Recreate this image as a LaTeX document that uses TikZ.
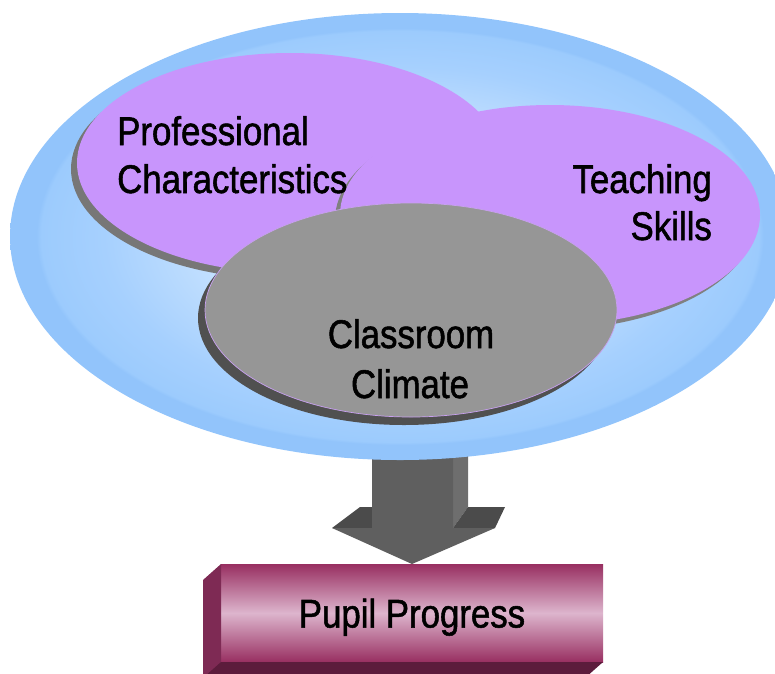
\documentclass[tikz,border=0pt]{standalone}
\usepackage{fontspec}
\setmainfont[FakeStretch=0.87,FakeBold=1.3]{Liberation Sans}
\usetikzlibrary{shapes.geometric}
\definecolor{purp}{HTML}{C895FC}
\definecolor{climgray}{HTML}{969696}
\definecolor{climedge}{HTML}{C8A0F0}
\definecolor{shadowA}{HTML}{777777}
\definecolor{shadowB}{HTML}{808080}
\definecolor{shadowC}{HTML}{505050}
\definecolor{bluein}{HTML}{D2E8FF}
\definecolor{bluemid}{HTML}{A6D0FE}
\definecolor{bluering}{HTML}{9CCBFD}
\definecolor{blueout}{HTML}{92C4FB}
\definecolor{boxdark}{HTML}{982F61}
\definecolor{boxlight}{HTML}{DDB5CD}
\definecolor{boxside}{HTML}{7E2A54}
\definecolor{boxbottom}{HTML}{5C1C3C}
\definecolor{arrfront}{HTML}{5F5F5F}
\definecolor{arrflap}{HTML}{4B4B4B}
\definecolor{arrside}{HTML}{6E6E6E}
\pgfdeclareradialshading{blueglow}{\pgfpoint{0bp}{0bp}}{color(0bp)=(bluein); color(9bp)=(bluein); color(19bp)=(bluemid); color(23bp)=(bluering); color(23.3bp)=(blueout); color(50bp)=(blueout)}
\tikzset{
  blob/.style={ellipse, inner sep=0pt, outer sep=0pt},
  lbl/.style={inner sep=0pt, font=\fontsize{40}{48}\selectfont, text=black},
}
\begin{document}
\begin{tikzpicture}[x=1pt, y=-1pt]
\useasboundingbox (0,0) rectangle (775,673);
\clip (0,0) rectangle (775,673);

% Pupil Progress box
\node[rectangle, minimum width=382pt, minimum height=98pt, inner sep=0pt, outer sep=0pt,
      top color=boxdark, bottom color=boxdark, middle color=boxlight,
      text height=29pt, text depth=0pt, font=\fontsize{40}{48}\selectfont] (pp) at (412,613) {Pupil Progress};
\fill[boxside] (pp.north west) -- ++(-18,16) -- ++(0,120) -- (pp.south west) -- cycle;
\fill[boxbottom] (pp.south west) -- (pp.south east) -- ++(-18,16) -- ++(-382,0) -- cycle;

% block arrow
\fill[arrside] (453,440) -- (468,440) -- (468,507) -- (453,528) -- cycle;
\fill[arrflap] (332,528) -- (360,507) -- (372,507) -- (372,528) -- cycle;
\fill[arrflap] (453,528) -- (468,507) -- (505,507) -- (495,528) -- cycle;
\fill[arrfront] (372,440) -- (453,440) -- (453,528) -- (495,528) -- (pp.north) -- (332,528) -- (372,528) -- cycle;

% outer blue ellipse
\node[blob, minimum width=780pt, minimum height=447pt, shading=blueglow] (outer) at (400,236.5) {};

% Professional Characteristics
\node[blob, minimum width=426pt, minimum height=220pt, fill=shadowA] (pcs) at (284,169) {};
\node[blob, minimum width=426pt, minimum height=220pt, fill=purp] (pc) at (290,163) {};

% Teaching Skills
\node[blob, minimum width=420pt, minimum height=220pt, fill=shadowB] (tss) at (545,220) {};
\node[blob, minimum width=420pt, minimum height=220pt, fill=purp] (ts) at (550,215) {};

% Classroom Climate
\node[blob, minimum width=412pt, minimum height=214pt, fill=shadowC] (ccs) at (404,318) {};
\node[blob, minimum width=412pt, minimum height=214pt, fill=climgray, draw=climedge, line width=0.7pt] (cc) at (411,310) {};

% labels
\node[lbl, anchor=base west] (pc1) at (117,145) {Professional};
\node[lbl, anchor=base west] (pc2) at (117,193) {Characteristics};
\node[lbl, anchor=base east] (ts1) at (712,193) {Teaching};
\node[lbl, anchor=base east] (ts2) at (712,240) {Skills};
\node[lbl, anchor=base] (cc1) at (411,348) {Classroom};
\node[lbl, anchor=base] (cc2) at (410,398) {Climate};
\end{tikzpicture}
\end{document}
